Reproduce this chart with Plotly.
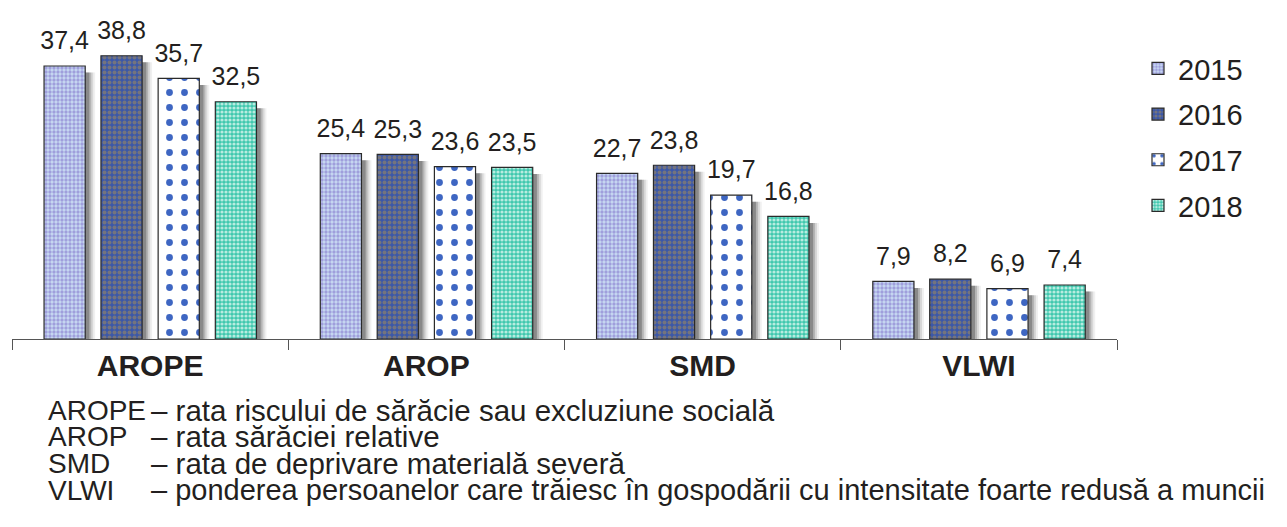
import plotly.graph_objects as go

# data
categories = ["AROPE", "AROP", "SMD", "VLWI"]
years = ["2015", "2016", "2017", "2018"]
v2015 = [37.4, 25.4, 22.7, 7.9]
v2016 = [38.8, 25.3, 23.8, 8.2]
v2017 = [35.7, 23.6, 19.7, 6.9]
v2018 = [32.5, 23.5, 16.8, 7.4]
values = [v2015, v2016, v2017, v2018]

notes_abbr = ["AROPE", "AROP", "SMD", "VLWI"]
notes_text = [
    "– rata riscului de sărăcie sau excluziune socială",
    "– rata sărăciei relative",
    "– rata de deprivare materială severă",
    "– ponderea persoanelor care trăiesc în gospodării cu intensitate foarte redusă a muncii",
]

# the page adds an 8px body margin, so the figure is 8px smaller than the window
PAGE = 8
W, H = 1287 - PAGE, 527 - PAGE
M = dict(l=12 - PAGE, r=170, t=10 - PAGE, b=188)
PW = W - M["l"] - M["r"]
PH = H - M["t"] - M["b"]
FONT = "Liberation Sans, Arial, sans-serif"

# bar styling (pattern fills mimic the excel textures)
styles = [
    dict(bg="#c9dbf3", fg="#9f9fdc", shape=".", size=4, sol=0.55),
    dict(bg="#3c58a8", fg="#74747e", shape=".", size=5, sol=0.5),
    dict(bg="#ffffff", fg="#3e66c2", shape=".", size=15, sol=0.16),
    dict(bg="#3fc8ae", fg="#b8ece0", shape=".", size=4, sol=0.5),
]
offsets = [-0.384, -0.178, 0.029, 0.236]
bw = 0.149


def fmt(v):
    return f"{v:.1f}".replace(".", ",")


fig = go.Figure()

# soft shadows behind the bars (a few stacked translucent layers)
for i, vals in enumerate(values):
    for dx, a in [(0.036, 0.07), (0.029, 0.12), (0.022, 0.2), (0.015, 0.3)]:
        fig.add_trace(
            go.Bar(
                x=categories,
                y=[v - 0.9 for v in vals],
                offset=offsets[i] + dx,
                width=bw,
                marker=dict(color=f"rgba(40,40,40,{a})", line=dict(width=0)),
                showlegend=False,
                hoverinfo="skip",
            )
        )

# the hidden second line just lifts the value label a little off the bar
label_tpl = (
    "<span style='font-size:25px'>%{text}</span>"
    "<br><span style='color:rgba(0,0,0,0)'>.</span>"
)

for i, (yr, vals) in enumerate(zip(years, values)):
    s = styles[i]
    fig.add_trace(
        go.Bar(
            x=categories,
            y=vals,
            name=yr,
            legendgroup=yr,
            offset=offsets[i],
            width=bw,
            text=[fmt(v) for v in vals],
            textposition="outside",
            texttemplate=label_tpl,
            textfont=dict(family=FONT, size=9, color="#231f20"),
            constraintext="none",
            cliponaxis=False,
            marker=dict(
                color=s["bg"],
                line=dict(color="#2a2a2a", width=1.2),
                pattern=dict(
                    shape=s["shape"],
                    fgcolor=s["fg"],
                    bgcolor=s["bg"],
                    size=s["size"],
                    solidity=s["sol"],
                    fillmode="replace",
                ),
            ),
        )
    )


def px_to_paper(x, y):
    # x, y are pixel positions in the browser window
    return (x - PAGE - M["l"]) / PW, (H - M["b"] - (y - PAGE)) / PH


annotations = []
for j, (ab, tx) in enumerate(zip(notes_abbr, notes_text)):
    yline = 410 + j * 26.7
    xa, ya = px_to_paper(46, yline)
    xb, _ = px_to_paper(149, yline)
    body_size = 29 if len(tx) > 60 else 29.5
    for xx, t, fs in [(xa, ab, 28), (xb, tx, body_size)]:
        annotations.append(
            dict(
                x=xx, y=ya, xref="paper", yref="paper",
                xanchor="left", yanchor="middle",
                text=t, showarrow=False,
                font=dict(family=FONT, size=fs, color="#231f20"),
            )
        )

lx, ly = px_to_paper(1138, 43)

fig.update_layout(
    width=W,
    height=H,
    margin=dict(M, autoexpand=False),
    barmode="overlay",
    plot_bgcolor="white",
    paper_bgcolor="white",
    font=dict(family=FONT, color="#231f20"),
    annotations=annotations,
    legend=dict(
        x=lx, y=ly, xanchor="left", yanchor="top",
        font=dict(family=FONT, size=29, color="#231f20"),
        tracegroupgap=5,
        itemwidth=30,
        bgcolor="rgba(0,0,0,0)",
    ),
)
fig.update_xaxes(
    categoryorder="array",
    categoryarray=categories,
    tickvals=categories,
    ticktext=[f"<b>{c}</b>" for c in categories],
    tickfont=dict(family=FONT, size=30, color="#231f20"),
    showline=True,
    linecolor="#555555",
    linewidth=1.2,
    ticks="outside",
    tickson="boundaries",
    ticklen=10,
    tickcolor="#555555",
    showgrid=False,
    automargin=False,
    range=[-0.5, 3.5],
)
fig.update_yaxes(visible=False, automargin=False, range=[0, PH / 7.3])

fig.write_html("out.html")
